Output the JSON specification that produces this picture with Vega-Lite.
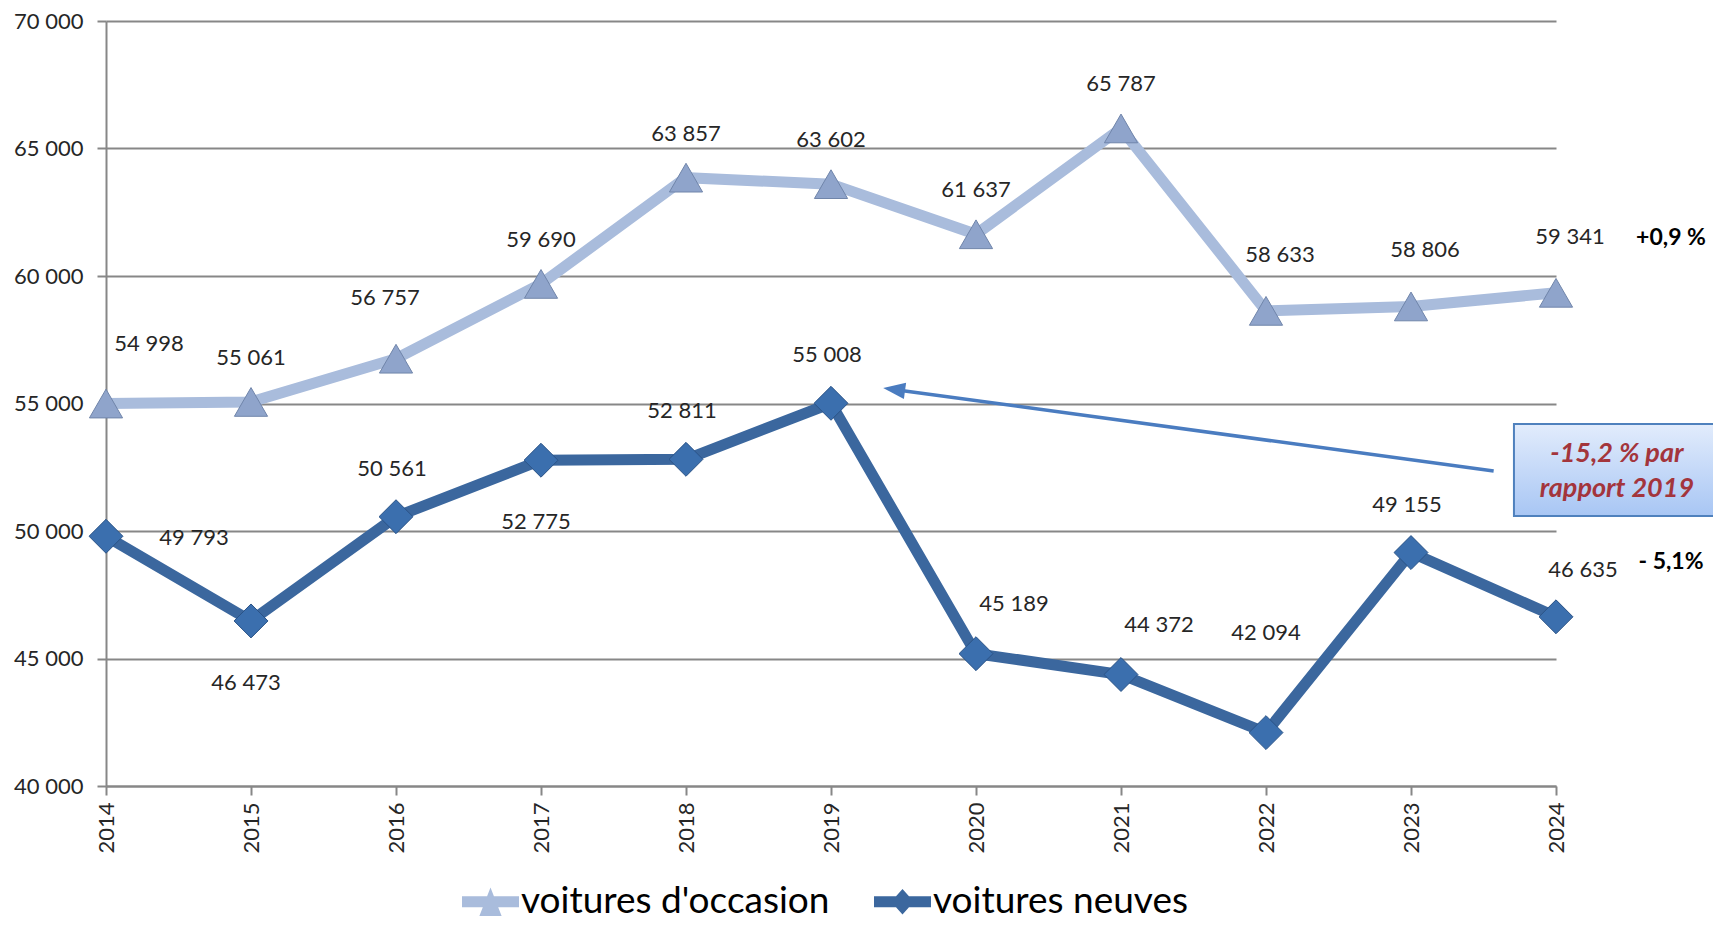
{
  "$schema": "https://vega.github.io/schema/vega-lite/v6.json",
  "autosize": "none",
  "width": 1450,
  "height": 765,
  "padding": {"left": 106, "top": 21, "right": 157, "bottom": 139},
  "background": "white",
  "config": {
    "view": {"stroke": null},
    "font": "Lato",
    "locale": {"number": {"decimal": ",", "thousands": " ", "grouping": [3], "currency": ["", " €"]}},
    "axis": {"labelFont": "Lato", "labelColor": "#262626", "labelFontSize": 22, "domainColor": "#878787", "domainWidth": 2, "tickColor": "#878787", "tickWidth": 2, "tickSize": 9, "title": null}
  },
  "datasets": {
    "ventes": [
      {"annee": 2014, "serie": "voitures d'occasion", "valeur": 54998},
      {"annee": 2015, "serie": "voitures d'occasion", "valeur": 55061},
      {"annee": 2016, "serie": "voitures d'occasion", "valeur": 56757},
      {"annee": 2017, "serie": "voitures d'occasion", "valeur": 59690},
      {"annee": 2018, "serie": "voitures d'occasion", "valeur": 63857},
      {"annee": 2019, "serie": "voitures d'occasion", "valeur": 63602},
      {"annee": 2020, "serie": "voitures d'occasion", "valeur": 61637},
      {"annee": 2021, "serie": "voitures d'occasion", "valeur": 65787},
      {"annee": 2022, "serie": "voitures d'occasion", "valeur": 58633},
      {"annee": 2023, "serie": "voitures d'occasion", "valeur": 58806},
      {"annee": 2024, "serie": "voitures d'occasion", "valeur": 59341},
      {"annee": 2014, "serie": "voitures neuves", "valeur": 49793},
      {"annee": 2015, "serie": "voitures neuves", "valeur": 46473},
      {"annee": 2016, "serie": "voitures neuves", "valeur": 50561},
      {"annee": 2017, "serie": "voitures neuves", "valeur": 52775},
      {"annee": 2018, "serie": "voitures neuves", "valeur": 52811},
      {"annee": 2019, "serie": "voitures neuves", "valeur": 55008},
      {"annee": 2020, "serie": "voitures neuves", "valeur": 45189},
      {"annee": 2021, "serie": "voitures neuves", "valeur": 44372},
      {"annee": 2022, "serie": "voitures neuves", "valeur": 42094},
      {"annee": 2023, "serie": "voitures neuves", "valeur": 49155},
      {"annee": 2024, "serie": "voitures neuves", "valeur": 46635}
    ],
    "encadre": [
      {"x": 2023.71, "x2": 2025.2, "y": 54196, "y2": 50588}
    ],
    "encadre_texte": [
      {"x": 2024.42, "y": 53020, "texte": "-15,2 % par"},
      {"x": 2024.42, "y": 51647, "texte": "rapport 2019"}
    ],
    "fleche": [
      {"x": 2023.57, "y": 52353, "x2": 2019.42, "y2": 55560, "xt": 2019.36, "yt": 55608}
    ]
  },
  "data": {"name": "ventes"},
  "encoding": {
    "x": {
      "field": "annee", "type": "quantitative",
      "scale": {"domain": [2014, 2024], "nice": false, "zero": false},
      "axis": {"values": [2014, 2015, 2016, 2017, 2018, 2019, 2020, 2021, 2022, 2023, 2024], "format": "d", "labelAngle": 270, "labelPadding": 7, "grid": false}
    },
    "y": {
      "field": "valeur", "type": "quantitative",
      "scale": {"domain": [40000, 70000], "nice": false, "zero": false},
      "axis": {"values": [40000, 45000, 50000, 55000, 60000, 65000, 70000], "format": ",d", "grid": true, "gridColor": "#878787", "gridWidth": 2, "labelPadding": 14}
    }
  },
  "layer": [
    {
      "mark": {"type": "line", "strokeWidth": 11, "strokeJoin": "miter"},
      "encoding": {
        "color": {
          "field": "serie", "type": "nominal",
          "scale": {"domain": ["voitures d'occasion", "voitures neuves"], "range": ["#a9bcdc", "#3b679e"]},
          "legend": {
            "title": null, "orient": "none", "direction": "horizontal",
            "legendX": 356, "legendY": 852,
            "symbolSize": 3249, "symbolStrokeWidth": 0,
            "labelFont": "Lato", "labelFontSize": 37, "labelColor": "#000000", "labelOffset": 2, "labelLimit": 0,
            "columnPadding": 44,
            "encode": {
              "symbols": {
                "update": {
                  "shape": [
                    {"test": "datum.value === 'voitures neuves'", "value": "M-1,-0.19 L1,-0.19 L1,0.19 L-1,0.19 Z M0,-0.45 L0.4,0 L0,0.45 L-0.4,0 Z"},
                    {"value": "M-1,-0.19 L1,-0.19 L1,0.19 L-1,0.19 Z M0,-0.5 L0.39,0.5 L-0.39,0.5 Z"}
                  ],
                  "fill": [
                    {"test": "datum.value === 'voitures neuves'", "value": "#3b679e"},
                    {"value": "#a9bcdc"}
                  ],
                  "strokeWidth": {"value": 0},
                  "opacity": {"value": 1}
                }
              }
            }
          }
        }
      }
    },
    {
      "transform": [{"filter": "datum.serie === \"voitures d'occasion\""}],
      "mark": {"type": "point", "shape": "triangle-up", "filled": true, "fill": "#8fa4cb", "stroke": "#7085aa", "strokeWidth": 1, "size": 1100, "opacity": 1}
    },
    {
      "transform": [{"filter": "datum.serie === 'voitures neuves'"}],
      "mark": {"type": "point", "shape": "diamond", "filled": true, "fill": "#3b6fae", "stroke": "#2a5387", "strokeWidth": 1, "size": 1150, "opacity": 1}
    },
    {
      "transform": [{"filter": "datum.serie === \"voitures d'occasion\" && indexof([2015, 2017, 2018, 2019, 2020, 2021], datum.annee) >= 0"}],
      "mark": {"type": "text", "fontSize": 22, "color": "#262626", "baseline": "middle", "align": "center", "dy": -44},
      "encoding": {"text": {"field": "valeur", "type": "quantitative", "format": ",d"}}
    },
    {
      "transform": [{"filter": "datum.serie === \"voitures d'occasion\" && datum.annee === 2014"}],
      "mark": {"type": "text", "fontSize": 22, "color": "#262626", "baseline": "middle", "align": "center", "dx": 43, "dy": -60},
      "encoding": {"text": {"field": "valeur", "type": "quantitative", "format": ",d"}}
    },
    {
      "transform": [{"filter": "datum.serie === \"voitures d'occasion\" && datum.annee === 2016"}],
      "mark": {"type": "text", "fontSize": 22, "color": "#262626", "baseline": "middle", "align": "center", "dx": -11, "dy": -61},
      "encoding": {"text": {"field": "valeur", "type": "quantitative", "format": ",d"}}
    },
    {
      "transform": [{"filter": "datum.serie === \"voitures d'occasion\" && datum.annee >= 2022"}],
      "mark": {"type": "text", "fontSize": 22, "color": "#262626", "baseline": "middle", "align": "center", "dx": 14, "dy": -56},
      "encoding": {"text": {"field": "valeur", "type": "quantitative", "format": ",d"}}
    },
    {
      "transform": [{"filter": "datum.serie === 'voitures neuves' && indexof([2016, 2018, 2019, 2023], datum.annee) >= 0"}],
      "mark": {"type": "text", "fontSize": 22, "color": "#262626", "baseline": "middle", "align": "center", "dx": -4, "dy": -48},
      "encoding": {"text": {"field": "valeur", "type": "quantitative", "format": ",d"}}
    },
    {
      "transform": [{"filter": "datum.serie === 'voitures neuves' && indexof([2020, 2021], datum.annee) >= 0"}],
      "mark": {"type": "text", "fontSize": 22, "color": "#262626", "baseline": "middle", "align": "center", "dx": 38, "dy": -50},
      "encoding": {"text": {"field": "valeur", "type": "quantitative", "format": ",d"}}
    },
    {
      "transform": [{"filter": "datum.serie === 'voitures neuves' && datum.annee === 2024"}],
      "mark": {"type": "text", "fontSize": 22, "color": "#262626", "baseline": "middle", "align": "center", "dx": 27, "dy": -47},
      "encoding": {"text": {"field": "valeur", "type": "quantitative", "format": ",d"}}
    },
    {
      "transform": [{"filter": "datum.serie === 'voitures neuves' && datum.annee === 2022"}],
      "mark": {"type": "text", "fontSize": 22, "color": "#262626", "baseline": "middle", "align": "center", "dx": 0, "dy": -100},
      "encoding": {"text": {"field": "valeur", "type": "quantitative", "format": ",d"}}
    },
    {
      "transform": [{"filter": "datum.serie === 'voitures neuves' && indexof([2015, 2017], datum.annee) >= 0"}],
      "mark": {"type": "text", "fontSize": 22, "color": "#262626", "baseline": "middle", "align": "center", "dx": -5, "dy": 62},
      "encoding": {"text": {"field": "valeur", "type": "quantitative", "format": ",d"}}
    },
    {
      "transform": [{"filter": "datum.serie === 'voitures neuves' && datum.annee === 2014"}],
      "mark": {"type": "text", "fontSize": 22, "color": "#262626", "baseline": "middle", "align": "center", "dx": 88, "dy": 2},
      "encoding": {"text": {"field": "valeur", "type": "quantitative", "format": ",d"}}
    },
    {
      "transform": [{"filter": "datum.annee === 2024"}],
      "mark": {"type": "text", "fontSize": 23, "fontWeight": "bold", "color": "#000000", "baseline": "middle", "align": "center", "dx": 115, "dy": -55},
      "encoding": {"text": {"condition": {"test": "datum.serie === 'voitures neuves'", "value": "- 5,1%"}, "value": "+0,9 %"}}
    },
    {
      "data": {"name": "fleche"},
      "mark": {"type": "rule", "color": "#4a7cc0", "strokeWidth": 3.5},
      "encoding": {
        "x": {"field": "x", "type": "quantitative"},
        "x2": {"field": "x2"},
        "y": {"field": "y", "type": "quantitative"},
        "y2": {"field": "y2"}
      }
    },
    {
      "data": {"name": "fleche"},
      "mark": {"type": "point", "shape": "M0,0 L2,-0.75 L2,0.75 Z", "filled": true, "color": "#4a7cc0", "size": 484, "angle": 7.7, "opacity": 1},
      "encoding": {
        "x": {"field": "xt", "type": "quantitative"},
        "y": {"field": "yt", "type": "quantitative"}
      }
    },
    {
      "data": {"name": "encadre"},
      "mark": {
        "type": "rect", "stroke": "#4f81bd", "strokeWidth": 2,
        "fill": {"gradient": "linear", "x1": 0, "y1": 0, "x2": 0, "y2": 1, "stops": [{"offset": 0, "color": "#e2ecfc"}, {"offset": 1, "color": "#a8c6f4"}]}
      },
      "encoding": {
        "x": {"field": "x", "type": "quantitative"},
        "x2": {"field": "x2"},
        "y": {"field": "y", "type": "quantitative"},
        "y2": {"field": "y2"}
      }
    },
    {
      "data": {"name": "encadre_texte"},
      "mark": {"type": "text", "fontSize": 27, "fontWeight": "bold", "fontStyle": "italic", "color": "#a3353c", "align": "center", "baseline": "middle"},
      "encoding": {
        "x": {"field": "x", "type": "quantitative"},
        "y": {"field": "y", "type": "quantitative"},
        "text": {"field": "texte"}
      }
    }
  ]
}
